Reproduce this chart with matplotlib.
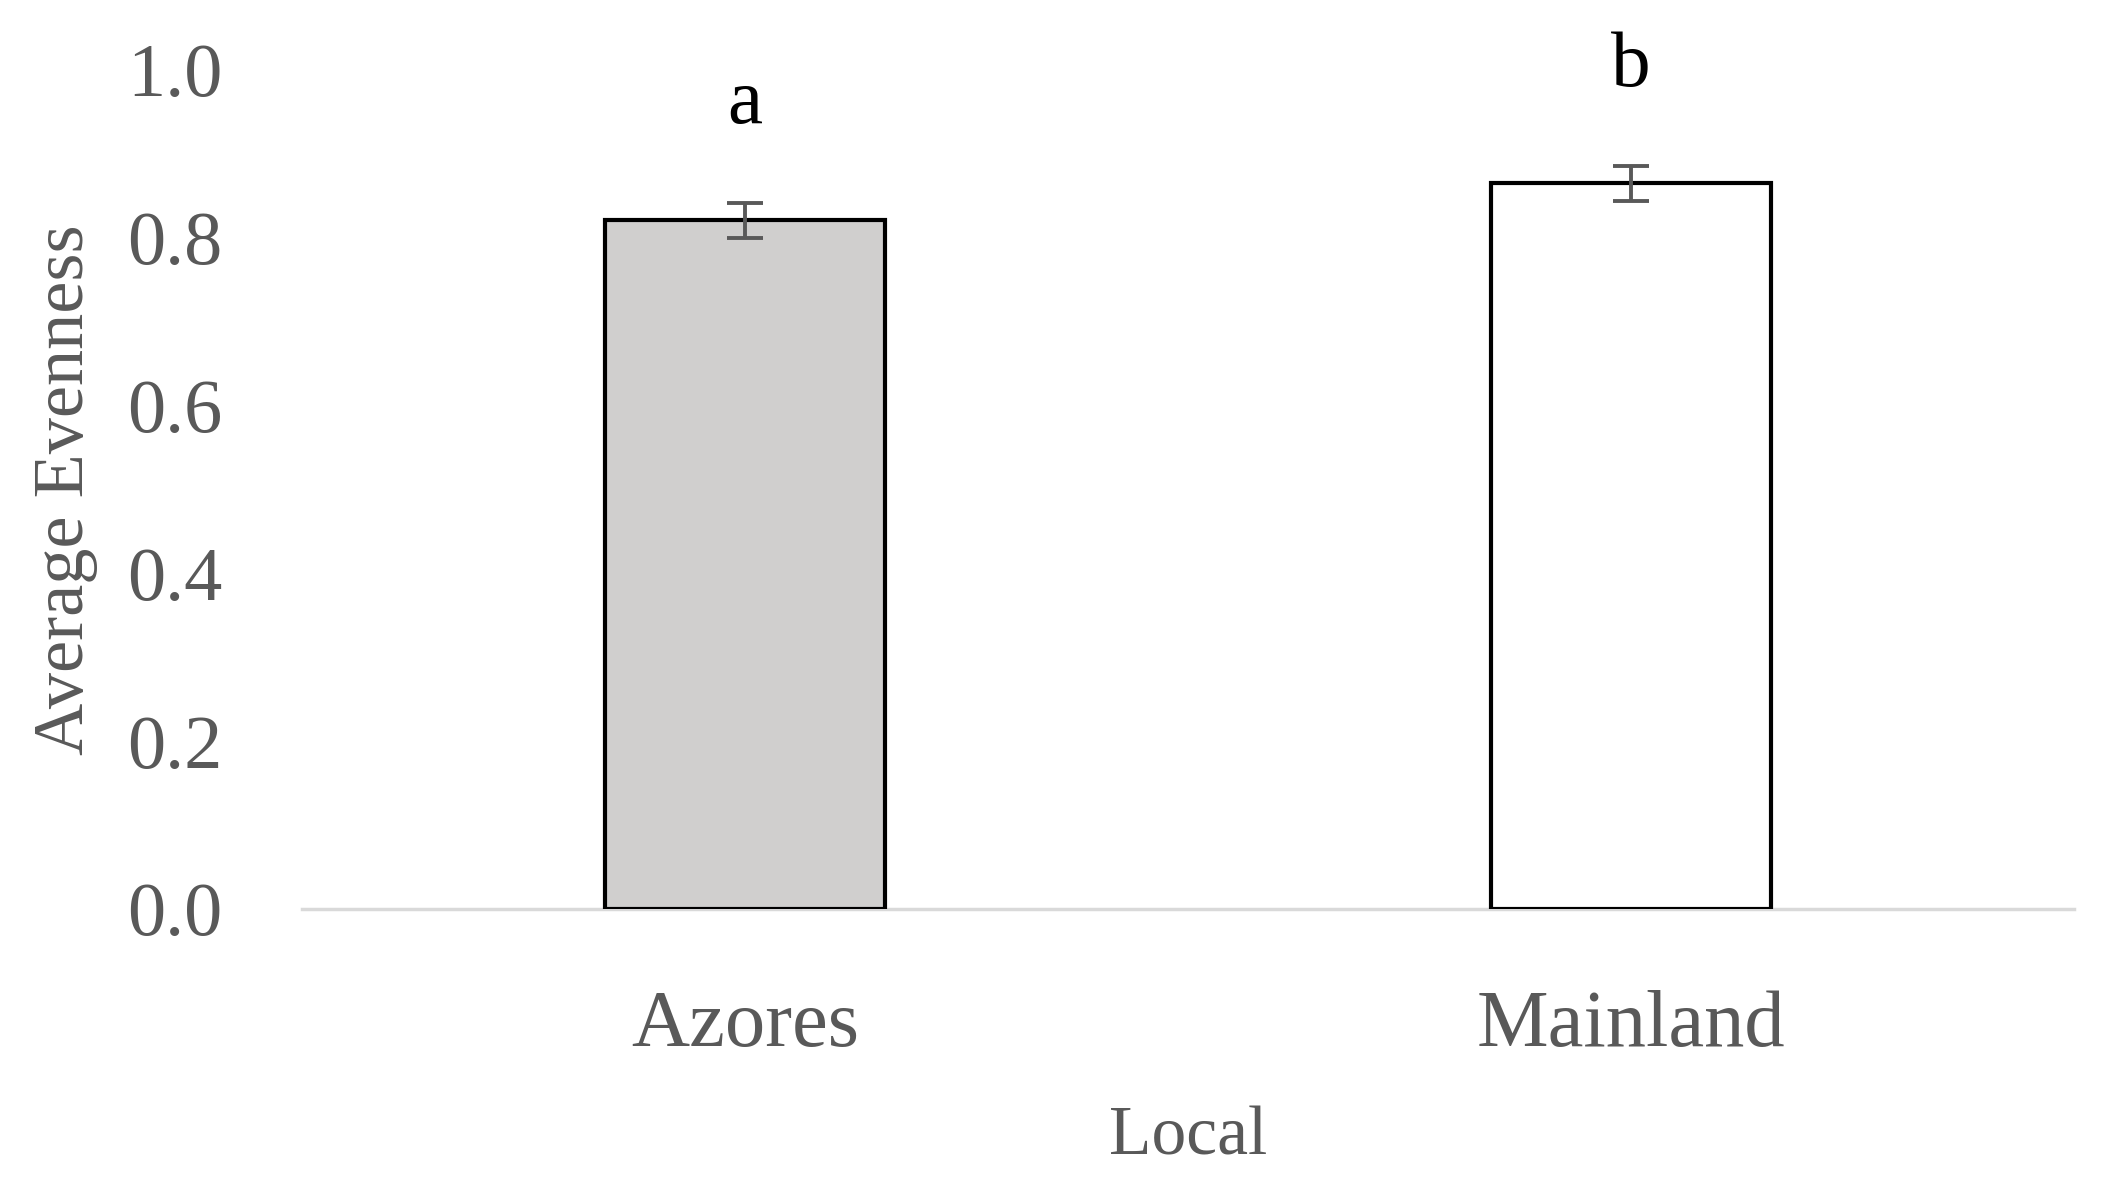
import matplotlib
matplotlib.use("Agg")
import matplotlib.pyplot as plt

categories = ["Azores", "Mainland"]
values = [0.821, 0.865]
errors = [0.021, 0.021]
letters = ["a", "b"]
fills = ["#d0cfce", "#ffffff"]
yticks = [0.0, 0.2, 0.4, 0.6, 0.8, 1.0]

plt.rcParams['font.family'] = ['Liberation Serif', 'DejaVu Serif']

fig = plt.figure(figsize=(21.12, 11.96), dpi=100)
ax = fig.add_axes([0.143, 0.240, 0.839, 0.7015])

x = list(range(len(categories)))
ax.bar(x, values, width=0.315, color=fills, edgecolor="black", linewidth=3.0, zorder=2)
ax.errorbar(x, values, yerr=errors, fmt="none", ecolor="#595959", elinewidth=2.8,
            capsize=13, capthick=2.8, zorder=3)
for xi, v, e, t in zip(x, values, errors, letters):
    ax.annotate(t, (xi, v + e), xytext=(0, 45), textcoords="offset points",
                ha="center", va="bottom", fontsize=57, color="black")

ax.set_xlim(-0.5, 1.5)
ax.set_ylim(0, 1.0)
ax.set_yticks(yticks)
ax.set_yticklabels([f"{t:.1f}" for t in yticks])
ax.set_xticks(x)
ax.set_xticklabels(categories)
ax.tick_params(axis="y", length=0, pad=57, labelsize=55, labelcolor="#595959")
ax.tick_params(axis="x", length=0, pad=58, labelsize=58, labelcolor="#595959")

for s in ["top", "right", "left"]:
    ax.spines[s].set_visible(False)
ax.spines["bottom"].set_color("#d9d9d9")
ax.spines["bottom"].set_linewidth(2.5)
ax.spines["bottom"].set_zorder(1)

ax.set_ylabel("Average Evenness", fontsize=52, color="#595959", va="center")
ax.yaxis.set_label_coords(-0.1337, 0.5)
ax.set_xlabel("Local", fontsize=50, color="#595959", va="center")
ax.xaxis.set_label_coords(0.5, -0.273)

fig.savefig("out.png", dpi=100)
